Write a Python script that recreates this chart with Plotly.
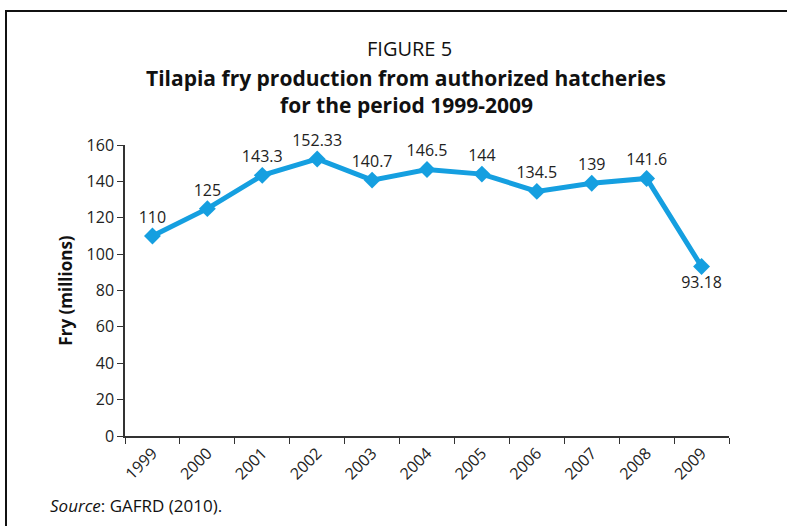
import plotly.graph_objects as go

years = ["1999", "2000", "2001", "2002", "2003", "2004", "2005", "2006", "2007", "2008", "2009"]
fry_millions = [110, 125, 143.3, 152.33, 140.7, 146.5, 144, 134.5, 139, 141.6, 93.18]
value_labels = ["110", "125", "143.3", "152.33", "140.7", "146.5", "144", "134.5", "139", "141.6", "93.18"]
label_positions = ["top center"] * 10 + ["bottom center"]

W, H = 787, 526
L, R, T, B = 125, 58, 145, 90
pw, ph = W - L - R, H - T - B

def px(x):
    return (x - L) / pw

def py(y):
    return (H - B - y) / ph

FONT = "Open Sans, Noto Sans, DejaVu Sans, sans-serif"
BLUE = "#159fe0"

fig = go.Figure()
fig.add_trace(go.Scatter(
    x=years, y=fry_millions,
    mode="lines+markers+text",
    line=dict(color=BLUE, width=5),
    marker=dict(symbol="diamond", size=13, color=BLUE),
    text=value_labels,
    textposition=label_positions,
    textfont=dict(family=FONT, size=16, color="#222222"),
    cliponaxis=False,
    showlegend=False,
))

fig.update_layout(
    width=W, height=H,
    margin=dict(l=L, r=R, t=T, b=B),
    paper_bgcolor="white", plot_bgcolor="white",
    font=dict(family=FONT, color="#222222"),
    xaxis=dict(
        type="category", range=[-0.5, 10.5],
        tickson="boundaries", ticks="outside", ticklen=6, tickcolor="#333",
        tickangle=-45, tickfont=dict(size=16),
        showline=True, linecolor="#333", linewidth=1.5,
        showgrid=False, zeroline=False,
    ),
    yaxis=dict(
        range=[0, 160], dtick=20,
        ticks="outside", ticklen=6, tickcolor="#333",
        tickfont=dict(size=16),
        showline=True, linecolor="#333", linewidth=1.5,
        showgrid=False, zeroline=False,
        title=dict(text="<b>Fry (millions)</b>", font=dict(size=17, color="#111"), standoff=10),
    ),
    annotations=[
        dict(text="FIGURE 5", x=px(409), y=py(48), xref="paper", yref="paper",
             showarrow=False, font=dict(size=20, color="#111"), xanchor="center", yanchor="middle"),
        dict(text="<b>Tilapia fry production from authorized hatcheries</b>", x=px(406), y=py(78),
             xref="paper", yref="paper", showarrow=False, font=dict(size=21, color="#111"),
             xanchor="center", yanchor="middle"),
        dict(text="<b>for the period 1999-2009</b>", x=px(406), y=py(105),
             xref="paper", yref="paper", showarrow=False, font=dict(size=21, color="#111"),
             xanchor="center", yanchor="middle"),
        dict(text="<i>Source</i>: GAFRD (2010).", x=px(48), y=py(505), xref="paper", yref="paper",
             showarrow=False, font=dict(size=17, color="#111"), xanchor="left", yanchor="middle"),
    ],
    shapes=[
        dict(type="rect", xref="paper", yref="paper",
             x0=px(6), x1=px(800), y0=py(540), y1=py(11),
             line=dict(color="#111", width=2), fillcolor="rgba(0,0,0,0)", layer="below"),
    ],
)

fig.write_html("out.html")
